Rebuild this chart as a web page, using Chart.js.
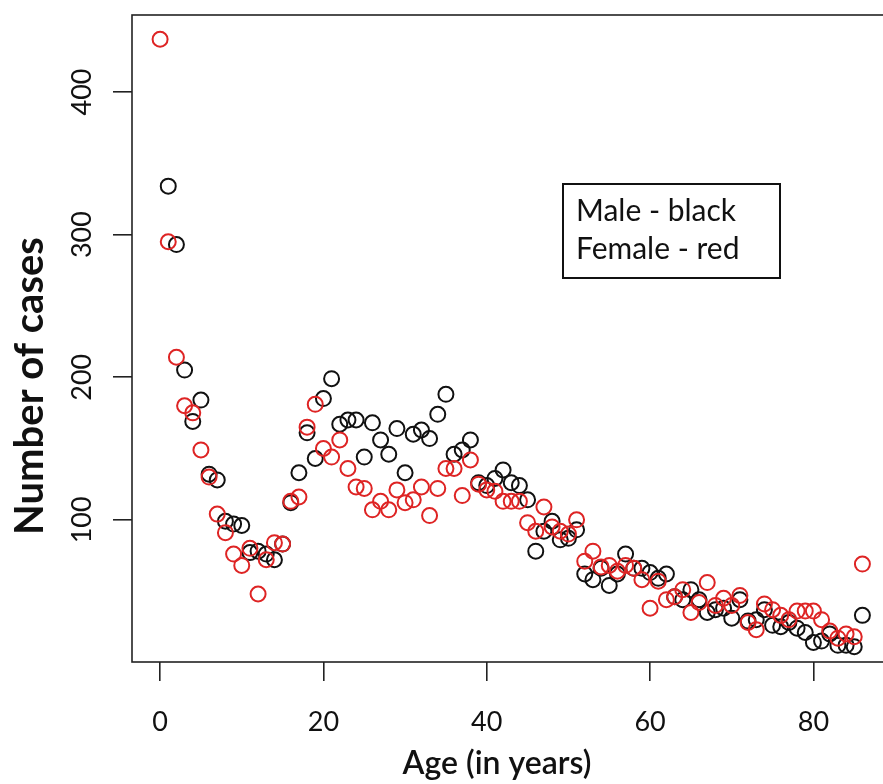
<!DOCTYPE html>
<html>
<head>
<meta charset="utf-8">
<title>Cases by age</title>
<script src="https://cdn.jsdelivr.net/npm/chart.js@4.4.1/dist/chart.umd.min.js"></script>
<style>
  html, body { margin: 0; padding: 0; background: #fff; overflow: hidden; }
  #wrap { width: 883px; height: 784px; overflow: hidden; }
</style>
</head>
<body>
<div id="wrap"><canvas id="ageChart" width="900" height="784"></canvas></div>
<script>
// Age in years (x axis)
const ages = [
  0, 1, 2, 3, 4, 5, 6, 7, 8, 9,
  10, 11, 12, 13, 14, 15, 16, 17, 18, 19,
  20, 21, 22, 23, 24, 25, 26, 27, 28, 29,
  30, 31, 32, 33, 34, 35, 36, 37, 38, 39,
  40, 41, 42, 43, 44, 45, 46, 47, 48, 49,
  50, 51, 52, 53, 54, 55, 56, 57, 58, 59,
  60, 61, 62, 63, 64, 65, 66, 67, 68, 69,
  70, 71, 72, 73, 74, 75, 76, 77, 78, 79,
  80, 81, 82, 83, 84, 85, 86
];

// Number of cases - male (black)
const maleCases = [
  null, 334, 293, 205, 169, 184, 132, 128, 99, 97,
  96, 77, 78, 76, 72, 83, 112, 133, 161, 143,
  185, 199, 167, 170, 170, 144, 168, 156, 146, 164,
  133, 160, 163, 157, 174, 188, 146, 149, 156, 126,
  124, 129, 135, 126, 124, 114, 78, 92, 99, 86,
  87, 93, 62, 58, 66, 54, 62, 76, 66, 66,
  63, 59, 62, 46, 44, 51, 44, 35, 37, 38,
  31, 44, 29, 30, 37, 26, 25, 28, 24, 21,
  14, 15, 20, 12, 12, 11, 33
];

// Number of cases - female (red)
const femaleCases = [
  437, 295, 214, 180, 175, 149, 130, 104, 91, 76,
  68, 80, 48, 72, 84, 83, 113, 116, 165, 181,
  150, 144, 156, 136, 123, 122, 107, 113, 107, 121,
  112, 114, 123, 103, 122, 136, 136, 117, 142, 125,
  121, 120, 113, 113, 113, 98, 92, 109, 95, 92,
  90, 100, 71, 78, 67, 68, 64, 68, 66, 58,
  38, 57, 44, 46, 51, 35, 42, 56, 40, 45,
  40, 47, 28, 23, 41, 37, 33, 30, 36, 36,
  36, 30, 22, 17, 20, 18, 69
];

const xTicks = [0, 20, 40, 60, 80];
const yTicks = [100, 200, 300, 400];

const xTitle = 'Age (in years)';
const yTitle = 'Number of cases';
const legendLines = ['Male - black', 'Female - red'];

function toPoints(values) {
    return ages.map((a, i) => ({ x: a, y: values[i] })).filter(p => p.y !== null);
}

// Box, tick labels, axis titles and the legend box
const framePlugin = {
    id: 'frame',
    afterDraw(chart) {
        const ctx = chart.ctx;
        const area = chart.chartArea;
        const xs = chart.scales.x;
        const ys = chart.scales.y;
        ctx.save();
        ctx.strokeStyle = '#222';
        ctx.lineWidth = 1.6;
        ctx.strokeRect(area.left, area.top, area.right - area.left, area.bottom - area.top);

        ctx.fillStyle = '#111';
        ctx.font = '27px Lato';
        ctx.textAlign = 'center';
        ctx.textBaseline = 'middle';
        xTicks.forEach(v => ctx.fillText(String(v), xs.getPixelForValue(v), 722));
        yTicks.forEach(v => {
            ctx.save();
            ctx.translate(82, ys.getPixelForValue(v));
            ctx.rotate(-Math.PI / 2);
            ctx.fillText(String(v), 0, 0);
            ctx.restore();
        });

        ctx.font = '600 32px Lato';
        ctx.fillText(xTitle, 497, 764);

        ctx.save();
        ctx.font = 'bold 40px Lato';
        ctx.translate(30, 386);
        ctx.rotate(-Math.PI / 2);
        ctx.fillText(yTitle, 0, 0);
        ctx.restore();

        // legend
        ctx.lineWidth = 2;
        ctx.strokeStyle = '#111';
        ctx.strokeRect(563, 184, 217, 94);
        ctx.font = '30px Lato';
        ctx.textAlign = 'left';
        ctx.textBaseline = 'alphabetic';
        ctx.fillText(legendLines[0], 576, 221);
        ctx.fillText(legendLines[1], 576, 259);
        ctx.restore();
    }
};

const ctx = document.getElementById('ageChart').getContext('2d');
const ageChart = new Chart(ctx, {
    type: 'scatter',
    data: {
        datasets: [{
            label: 'Male',
            data: toPoints(maleCases),
            borderColor: '#111111',
            backgroundColor: 'rgba(0,0,0,0)',
            borderWidth: 2,
            pointRadius: 7.5,
            order: 2
        }, {
            label: 'Female',
            data: toPoints(femaleCases),
            borderColor: '#de2424',
            backgroundColor: 'rgba(0,0,0,0)',
            borderWidth: 2,
            pointRadius: 7.5,
            order: 1
        }]
    },
    options: {
        responsive: false,
        animation: false,
        layout: { padding: { top: 15, right: 8, left: 0, bottom: 0 } },
        plugins: {
            legend: { display: false },
            tooltip: { enabled: false }
        },
        scales: {
            x: {
                type: 'linear',
                min: -3.44,
                max: 89.44,
                afterFit: s => { s.height = 122; },
                afterBuildTicks: s => { s.ticks = xTicks.map(v => ({ value: v })); },
                ticks: { display: false },
                grid: {
                    drawOnChartArea: false,
                    drawTicks: true,
                    tickLength: 19,
                    color: '#222',
                    lineWidth: 1.6
                },
                border: { display: false }
            },
            y: {
                type: 'linear',
                min: 0.3,
                max: 454,
                afterFit: s => { s.width = 132; },
                afterBuildTicks: s => { s.ticks = yTicks.map(v => ({ value: v })); },
                ticks: { display: false },
                grid: {
                    drawOnChartArea: false,
                    drawTicks: true,
                    tickLength: 19,
                    color: '#222',
                    lineWidth: 1.6
                },
                border: { display: false }
            }
        }
    },
    plugins: [framePlugin]
});
</script>
</body>
</html>
